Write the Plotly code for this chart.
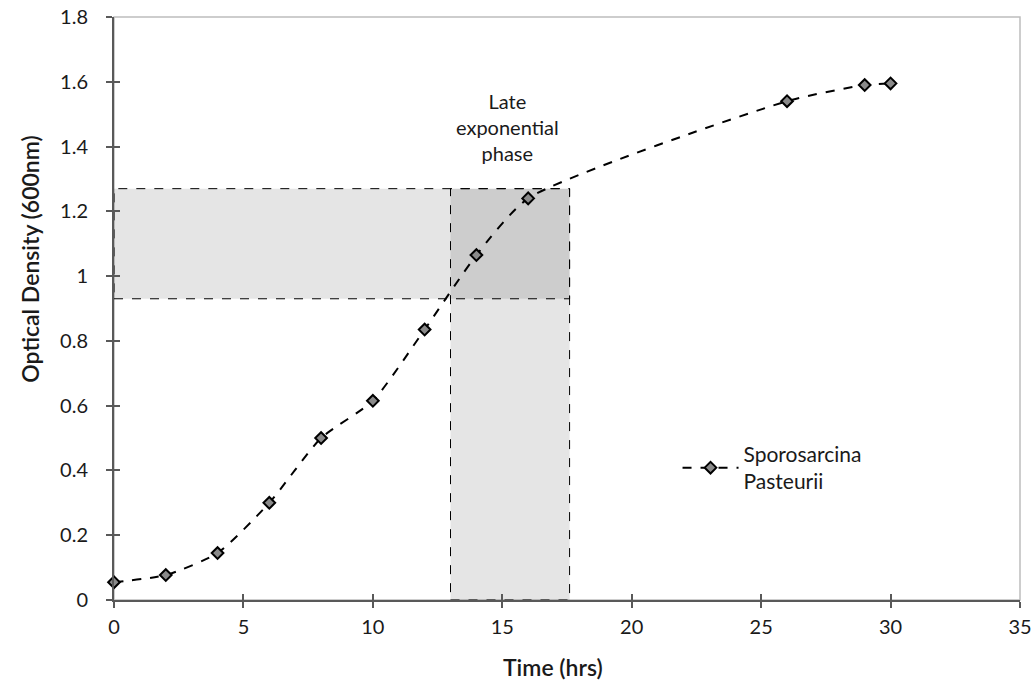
import plotly.graph_objects as go

# Growth curve measurements
time_hrs = [0, 2, 4, 6, 8, 10, 12, 14, 16, 26, 29, 30]
optical_density = [0.055, 0.077, 0.145, 0.30, 0.50, 0.615, 0.835, 1.065, 1.24, 1.54, 1.59, 1.595]

# Late exponential phase window
phase_time = [13.0, 17.6]
phase_od = [0.93, 1.27]

FONT = "Lato, Carlito, 'Open Sans', sans-serif"
AXIS_COLOR = "#595959"
TEXT_COLOR = "#1a1a1a"

fig = go.Figure()

fig.add_trace(go.Scatter(
    x=time_hrs, y=optical_density,
    mode="lines+markers",
    name="Sporosarcina<br>Pasteurii",
    line=dict(color="black", width=2, dash="dash", shape="spline", smoothing=0.6),
    marker=dict(symbol="diamond", size=9, color="#8a8a8a",
                line=dict(color="black", width=2)),
    cliponaxis=False,
))

# Shaded bands: OD range across time, and time range across OD
fig.add_shape(type="rect", layer="below",
              x0=0, x1=phase_time[1], y0=phase_od[0], y1=phase_od[1],
              fillcolor="rgba(0,0,0,0.10)",
              line=dict(color="black", width=1, dash="dash"))
fig.add_shape(type="rect", layer="below",
              x0=phase_time[0], x1=phase_time[1], y0=0, y1=phase_od[1],
              fillcolor="rgba(0,0,0,0.10)",
              line=dict(color="black", width=1, dash="dash"))

# Light frame on top/right
fig.add_shape(type="rect", xref="x domain", yref="y domain",
              x0=0, x1=1, y0=0, y1=1, layer="below",
              line=dict(color="#bdbdbd", width=1.5))

fig.add_annotation(x=sum(phase_time) / 2 - 0.1, y=1.46,
                   text="Late<br>exponential<br>phase",
                   showarrow=False, font=dict(family=FONT, size=20, color=TEXT_COLOR))

# Axis titles
fig.add_annotation(xref="paper", yref="paper", x=0.485, y=-0.115,
                   xanchor="center", yanchor="middle", showarrow=False,
                   text="Time (hrs)",
                   font=dict(family=FONT, size=23, color=TEXT_COLOR, weight=600))
fig.add_annotation(xref="paper", yref="paper", x=-0.093, y=0.585,
                   xanchor="center", yanchor="middle", showarrow=False, textangle=-90,
                   text="Optical Density (600nm)",
                   font=dict(family=FONT, size=23, color=TEXT_COLOR, weight=600))

axis_common = dict(showgrid=False, zeroline=False, showline=True, automargin=False,
                   linecolor=AXIS_COLOR, linewidth=2,
                   ticks="outside", ticklen=6, tickwidth=1.5, tickcolor=AXIS_COLOR,
                   tickfont=dict(family=FONT, size=20, color=TEXT_COLOR))

fig.update_layout(
    width=1036, height=686,
    margin=dict(l=114, r=16, t=17, b=86),
    paper_bgcolor="white", plot_bgcolor="white",
    font=dict(family=FONT, color=TEXT_COLOR),
    xaxis=dict(range=[0, 35], dtick=5, ticklabelstandoff=2, **axis_common),
    yaxis=dict(range=[0, 1.8], dtick=0.2, tickformat="~g", ticklabelstandoff=14,
               **axis_common),
    xaxis2=dict(overlaying="x", matches="x", range=[0, 35], dtick=5, showgrid=False,
                zeroline=False, showticklabels=False, ticks="inside", ticklen=6,
                automargin=False,
                tickwidth=1.5, tickcolor=AXIS_COLOR, side="bottom", anchor="y2"),
    yaxis2=dict(overlaying="y", matches="y", range=[0, 1.8], dtick=0.2, showgrid=False,
                zeroline=False, showticklabels=False, ticks="inside", ticklen=6,
                automargin=False,
                tickwidth=1.5, tickcolor=AXIS_COLOR, side="left", anchor="x2"),
    legend=dict(x=0.622, y=0.285, xanchor="left", yanchor="top",
                bgcolor="rgba(0,0,0,0)", font=dict(family=FONT, size=21, color=TEXT_COLOR),
                itemwidth=56),
    showlegend=True,
)

# Empty trace on the overlay axes so their inner tick marks render
fig.add_trace(go.Scatter(x=[None], y=[None], xaxis="x2", yaxis="y2",
                         showlegend=False, hoverinfo="skip"))

fig.write_html("out.html")
